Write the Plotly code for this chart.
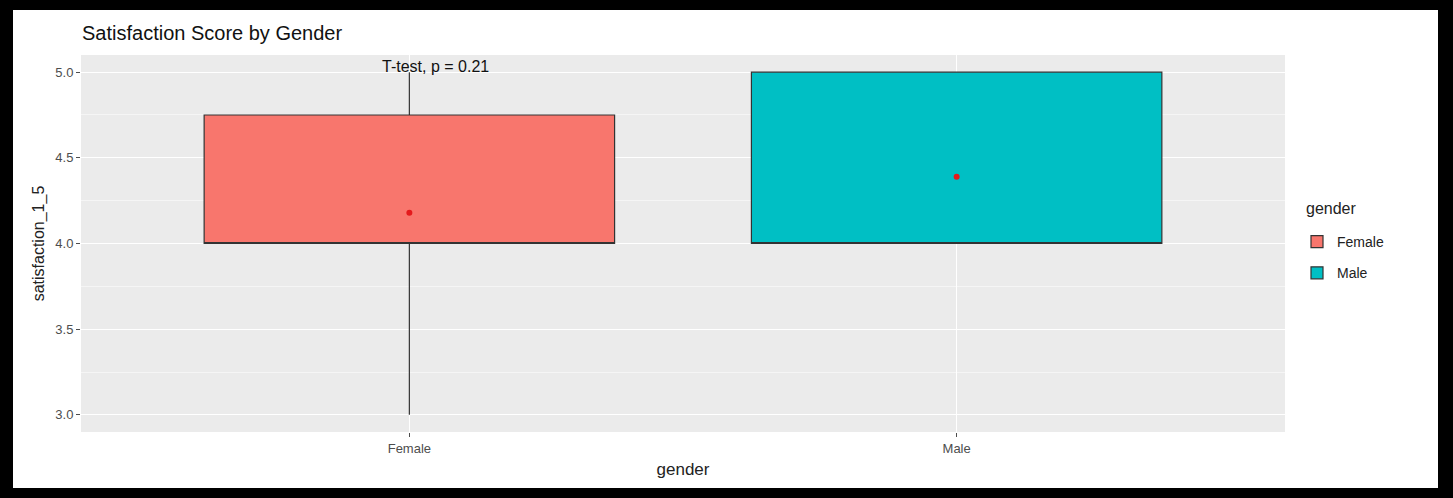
import plotly.graph_objects as go

genders = ["Female", "Male"]
q1 = [4.0, 4.0]
median = [4.0, 4.0]
q3 = [4.75, 5.0]
lower = [3.0, 4.0]
upper = [5.0, 5.0]
means = [4.18, 4.39]
colors = ["#F8766D", "#00BFC4"]
p_label = "T-test, p = 0.21"

W, H = 1453, 498
L, R, T, B = 81, 1285, 55, 432  # plot area in px

FONT = "Liberation Sans, Arial, sans-serif"

fig = go.Figure()
for i, g in enumerate(genders):
    fig.add_trace(go.Box(
        x=[g], q1=[q1[i]], median=[median[i]], q3=[q3[i]],
        lowerfence=[lower[i]], upperfence=[upper[i]],
        name=g, fillcolor=colors[i], width=0.75, whiskerwidth=0,
        line=dict(color="#333333", width=1.2), boxpoints=False,
        legendgroup=g, showlegend=True,
    ))
fig.add_trace(go.Scatter(
    x=genders, y=means, mode="markers",
    marker=dict(color="#E41A1C", size=6), showlegend=False, hoverinfo="y",
))

fig.add_annotation(x=-0.053, y=5.035, xref="x", yref="y", text=p_label,
                   showarrow=False, xanchor="left", yanchor="middle",
                   font=dict(family=FONT, size=16, color="#111111"))


def px_x(px):
    return (px - L) / (R - L)


def px_y(py):
    return (B - py) / (B - T)


fig.add_annotation(x=px_x(1304), y=px_y(208), xref="paper", yref="paper",
                   text="gender", showarrow=False, xanchor="left", yanchor="middle",
                   font=dict(family=FONT, size=16, color="#222222"))

border = [
    (0, 0, 13, H),
    (1438, 0, W, H),
    (0, 0, W, 10),
    (0, 488, W, H),
]
for x0, y0, x1, y1 in border:
    fig.add_shape(type="rect", xref="paper", yref="paper",
                  x0=px_x(x0), x1=px_x(x1), y0=px_y(y1), y1=px_y(y0),
                  fillcolor="black", line=dict(width=0), layer="above")

fig.update_layout(
    width=W, height=H,
    margin=dict(l=L, r=W - R, t=T, b=H - B, pad=0),
    paper_bgcolor="white", plot_bgcolor="#EBEBEB",
    font=dict(family=FONT, color="#222222"),
    title=dict(text="Satisfaction Score by Gender", x=82 / W,
               xanchor="left", y=1 - 33 / H, yanchor="middle",
               font=dict(size=20, color="#111111")),
    boxmode="overlay",
    legend=dict(x=px_x(1297), xanchor="left", y=px_y(226), yanchor="top",
                font=dict(size=14, color="#222222"), bgcolor="rgba(0,0,0,0)",
                tracegroupgap=10),
    showlegend=True,
)
fig.update_xaxes(
    type="category", range=[-0.6, 1.6], showgrid=True, gridcolor="white",
    gridwidth=1.2, zeroline=False, ticks="outside", ticklen=4, tickcolor="#4d4d4d",
    tickfont=dict(size=13, color="#4d4d4d"),
    title=dict(text="gender", font=dict(size=17, color="#222222"), standoff=8),
)
fig.update_yaxes(
    range=[2.9, 5.1], tickvals=[3.0, 3.5, 4.0, 4.5, 5.0],
    ticktext=["3.0", "3.5", "4.0", "4.5", "5.0"],
    showgrid=True, gridcolor="white", gridwidth=1.2, zeroline=False,
    ticks="outside", ticklen=4, tickcolor="#4d4d4d",
    tickfont=dict(size=13, color="#4d4d4d"),
    minor=dict(tickvals=[3.25, 3.75, 4.25, 4.75], showgrid=True,
               gridcolor="#F5F5F5", gridwidth=0.8, ticks=""),
    title=dict(text="satisfaction_1_5", font=dict(size=16, color="#222222"), standoff=6),
)

fig.write_html("out.html")
